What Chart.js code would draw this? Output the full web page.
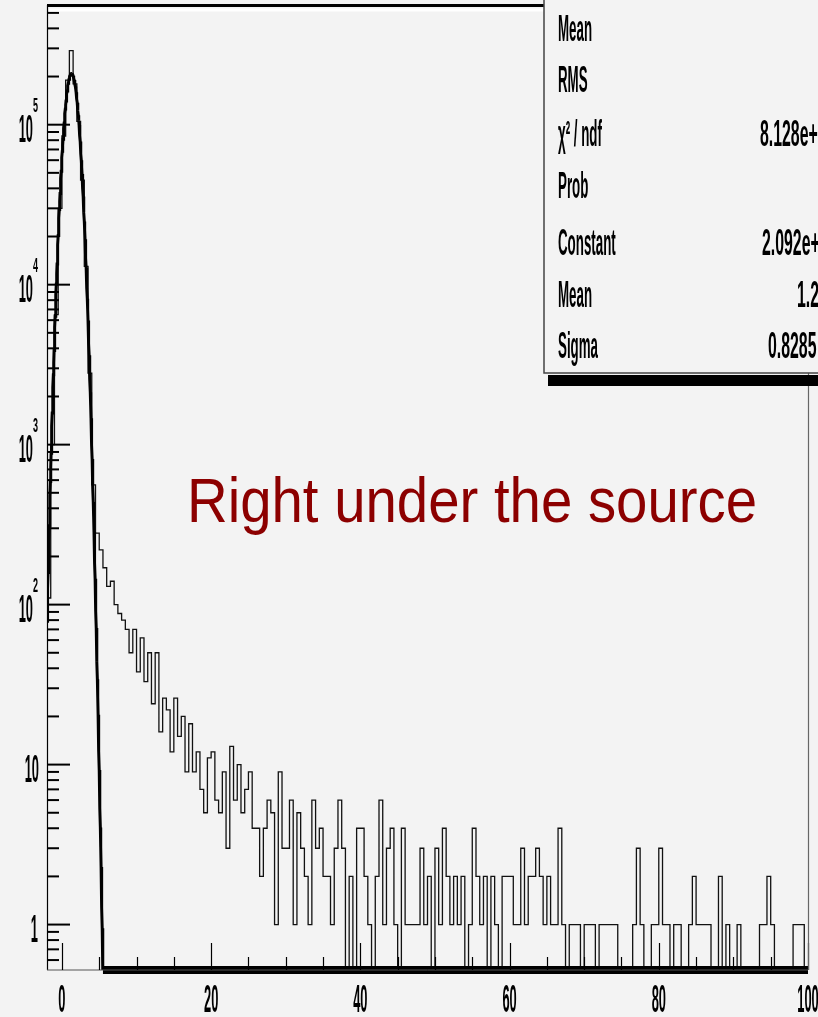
<!DOCTYPE html>
<html>
<head>
<meta charset="utf-8">
<title>Right under the source</title>
<script src="https://cdn.jsdelivr.net/npm/chart.js@4.4.1/dist/chart.umd.min.js"></script>
<style>
  html, body { margin: 0; padding: 0; background: #f3f3f3; overflow: hidden; }
  canvas { display: block; }
</style>
</head>
<body>
<canvas id="chart" width="818" height="1017"></canvas>
<script>
// Histogram binning: 0.5-wide bins starting at -2
const binLow = -2;
const binWidth = 0.5;

// Entries per bin (bin i covers [binLow + i*binWidth, binLow + (i+1)*binWidth))
const counts = [
  110, 1000, 6500, 30000, 85000, 190000, 290000, 180000, 105000, 45000,
  13000, 2800, 560, 280, 220, 170, 130, 140, 100, 88,
  80, 70, 50, 70, 38, 62, 33, 50, 24, 50,
  16, 26, 22, 12, 26, 15, 20, 9, 18, 9,
  12, 7, 5, 11, 12, 6, 5, 9, 3, 13,
  6, 10, 5, 7, 9, 4, 4, 2, 4, 6,
  5, 1, 9, 3, 3, 6, 1, 5, 3, 2,
  1, 6, 3, 4, 2, 2, 1, 3, 6, 3,
  0, 2, 0, 4, 4, 2, 1, 0, 2, 6,
  1, 3, 4, 1, 0, 4, 1, 1, 1, 1,
  3, 1, 2, 0, 3, 1, 4, 2, 1, 2,
  1, 2, 0, 1, 4, 2, 1, 2, 0, 2,
  1, 0, 2, 2, 2, 1, 1, 3, 1, 2,
  2, 3, 2, 1, 2, 1, 1, 4, 1, 0,
  1, 1, 1, 0, 1, 1, 1, 0, 1, 1,
  1, 1, 1, 0, 0, 0, 0, 1, 3, 1,
  0, 0, 1, 1, 3, 1, 1, 0, 1, 1,
  0, 0, 1, 2, 1, 1, 1, 1, 0, 0,
  2, 0, 1, 0, 0, 1, 0, 0, 0, 0,
  0, 1, 1, 2, 1, 0, 0, 0, 0, 0,
  1, 1, 1, 0
];

// Gaussian fit parameters
const fitConstant = 2.092e5;
const fitMean = 1.29;
const fitSigma = 0.8285;
const fitChi2 = 8.128e4;

// ROOT-style exponent formatting: 8.128e+04
function rootExp(v) {
  return v.toExponential(3).replace(/e([+-])(\d)$/, 'e$10$2');
}

// Statistics box rows
const statLabels = ['Mean', 'RMS', 'χ² / ndf', 'Prob', 'Constant', 'Mean', 'Sigma'];
const statValues = ['', '', rootExp(fitChi2), '', rootExp(fitConstant), fitMean.toFixed(2), fitSigma.toFixed(4)];

// Axes
const xRange = [-2, 100];
const yRange = [0.52, 5.6e5];
const xMajorTicks = [0, 20, 40, 60, 80, 100];
const xMinorTicks = [5, 10, 15, 25, 30, 35, 45, 50, 55, 65, 70, 75, 85, 90, 95];
const yDecades = [1, 10, 100, 1000, 10000, 100000];
const yMinorMultipliers = [2, 3, 4, 5, 6, 7, 8, 9];

const titleText = 'Right under the source';

// ---- datasets ----
const histPoints = counts.map((c, i) => ({ x: binLow + i * binWidth, y: Math.max(c, yRange[0]) }));
histPoints.push({ x: binLow + counts.length * binWidth, y: Math.max(counts[counts.length - 1], yRange[0]) });

function gauss(u) {
  const d = (u - fitMean) / fitSigma;
  return fitConstant * Math.exp(-0.5 * d * d);
}
const fitPoints = [];
for (let k = 0; k <= 2040; k++) {
  const u = xRange[0] + k * 0.05;
  fitPoints.push({ x: u, y: Math.max(gauss(u), yRange[0]) });
}

const FONT = "'Liberation Sans', Arial, sans-serif";

function narrowText(ctx, text, x, y, font, sx, align) {
  ctx.save();
  ctx.font = font;
  const w = ctx.measureText(text).width * sx;
  let left = x;
  if (align === 'right') left = x - w;
  else if (align === 'center') left = x - w / 2;
  ctx.translate(left, y);
  ctx.scale(sx, 1);
  ctx.textAlign = 'left';
  ctx.textBaseline = 'alphabetic';
  ctx.fillText(text, 0, 0);
  ctx.restore();
  return w;
}
function textWidth(ctx, text, font, sx) {
  ctx.save();
  ctx.font = font;
  const w = ctx.measureText(text).width * sx;
  ctx.restore();
  return w;
}

const backgroundPlugin = {
  id: 'background',
  beforeDraw(chart) {
    const ctx = chart.ctx;
    ctx.save();
    ctx.fillStyle = '#f3f3f3';
    ctx.fillRect(0, 0, chart.width, chart.height);
    ctx.restore();
  }
};

const framePlugin = {
  id: 'rootFrame',
  afterDatasetsDraw(chart) {
    const ctx = chart.ctx;
    const a = chart.chartArea;
    const xs = chart.scales.x, ys = chart.scales.y;
    ctx.save();

    // left axis line
    ctx.strokeStyle = '#000';
    ctx.lineWidth = 1.2;
    ctx.beginPath();
    ctx.moveTo(a.left + 0.5, a.top);
    ctx.lineTo(a.left + 0.5, a.bottom);
    ctx.stroke();

    // y ticks (drawn inward)
    ctx.lineWidth = 2;
    yDecades.forEach(d => {
      const y = ys.getPixelForValue(d);
      ctx.beginPath(); ctx.moveTo(a.left, y); ctx.lineTo(a.left + 23, y); ctx.stroke();
    });
    [0.1].concat(yDecades).forEach(d => {
      yMinorMultipliers.forEach(m => {
        const v = d * m;
        if (v < yRange[0] || v > yRange[1]) return;
        const y = ys.getPixelForValue(v);
        ctx.beginPath(); ctx.moveTo(a.left, y); ctx.lineTo(a.left + 12, y); ctx.stroke();
      });
    });

    // y labels
    ctx.fillStyle = '#000';
    const digitFont = 'bold 39px ' + FONT;
    const expFont = 'bold 21px ' + FONT;
    yDecades.forEach(d => {
      const e = Math.round(Math.log10(d));
      const y = ys.getPixelForValue(d);
      const right = 38;
      if (e === 0) {
        narrowText(ctx, '1', right, y + 17, digitFont, 0.33, 'right');
      } else if (e === 1) {
        narrowText(ctx, '10', right + 1, y + 17, digitFont, 0.33, 'right');
      } else {
        const we = textWidth(ctx, String(e), expFont, 0.43);
        narrowText(ctx, '10', right - we, y + 17, digitFont, 0.33, 'right');
        narrowText(ctx, String(e), right - we, y - 13, expFont, 0.43, 'left');
      }
    });

    // x axis line and ticks (drawn upward)
    ctx.strokeStyle = '#555';
    ctx.lineWidth = 1;
    ctx.beginPath(); ctx.moveTo(a.left, a.bottom); ctx.lineTo(a.right, a.bottom); ctx.stroke();
    ctx.strokeStyle = '#000';
    ctx.lineWidth = 1.2;
    xMajorTicks.forEach(v => {
      const x = Math.round(xs.getPixelForValue(v)) + 0.5;
      ctx.beginPath(); ctx.moveTo(x, a.bottom); ctx.lineTo(x, a.bottom - 27); ctx.stroke();
    });
    xMinorTicks.forEach(v => {
      const x = Math.round(xs.getPixelForValue(v)) + 0.5;
      ctx.beginPath(); ctx.moveTo(x, a.bottom); ctx.lineTo(x, a.bottom - 13); ctx.stroke();
    });
    xMajorTicks.forEach(v => {
      const x = xs.getPixelForValue(v);
      narrowText(ctx, String(v), x, 1012, digitFont, 0.33, 'center');
    });

    // top frame edge
    ctx.strokeStyle = '#000';
    ctx.lineWidth = 3;
    ctx.beginPath(); ctx.moveTo(a.left, a.top + 0.5); ctx.lineTo(a.right, a.top + 0.5); ctx.stroke();
    ctx.strokeStyle = '#ffffff';
    ctx.lineWidth = 3;
    ctx.beginPath(); ctx.moveTo(a.left + 2, a.top + 5); ctx.lineTo(a.right, a.top + 5); ctx.stroke();
    // right frame edge
    ctx.strokeStyle = '#666';
    ctx.lineWidth = 1.2;
    ctx.beginPath(); ctx.moveTo(a.right + 0.5, a.top); ctx.lineTo(a.right + 0.5, a.bottom); ctx.stroke();

    // statistics box with shadow
    const bx = 544, by = -4, bw = 300, bh = 377;
    ctx.fillStyle = '#000';
    ctx.fillRect(bx + 4, by + bh + 2, bw, 11);
    ctx.fillStyle = '#f3f3f3';
    ctx.fillRect(bx, by, bw, bh);
    ctx.strokeStyle = '#444';
    ctx.lineWidth = 1.5;
    ctx.strokeRect(bx, by, bw, bh);

    const statFont = 'bold 36px ' + FONT;
    const baselines = [41, 92, 146, 198, 255, 307, 358];
    const valueX = [0, 0, 760, 0, 762, 797, 768];
    ctx.fillStyle = '#000';
    statLabels.forEach((t, i) => {
      narrowText(ctx, t, 558, baselines[i], statFont, 0.37, 'left');
      if (statValues[i]) narrowText(ctx, statValues[i], valueX[i], baselines[i], statFont, 0.44, 'left');
    });

    // title
    ctx.fillStyle = '#8c0000';
    const tFont = '63px ' + FONT;
    const tw = textWidth(ctx, titleText, tFont, 1);
    narrowText(ctx, titleText, 187, 522, tFont, 570 / tw, 'left');

    ctx.restore();
  }
};

new Chart(document.getElementById('chart'), {
  type: 'line',
  data: {
    datasets: [
      {
        label: 'gaus fit',
        data: fitPoints,
        borderColor: '#000',
        borderWidth: 3,
        pointRadius: 0,
        tension: 0,
        clip: { left: 0, top: 0, right: 0, bottom: 5 },
        segment: {
          borderWidth: c => (fitPoints[c.p0DataIndex].y <= yRange[0] && fitPoints[c.p1DataIndex].y <= yRange[0]) ? 8 : 3
        }
      },
      {
        label: 'counts',
        data: histPoints,
        borderColor: '#111',
        borderWidth: 1.3,
        pointRadius: 0,
        stepped: 'before'
      }
    ]
  },
  options: {
    responsive: false,
    animation: false,
    devicePixelRatio: 1,
    layout: { padding: { left: 47, right: 10, top: 5, bottom: 47 } },
    scales: {
      x: { type: 'linear', min: xRange[0], max: xRange[1], display: false },
      y: { type: 'logarithmic', min: yRange[0], max: yRange[1], display: false }
    },
    plugins: { legend: { display: false }, tooltip: { enabled: false } }
  },
  plugins: [backgroundPlugin, framePlugin]
});
</script>
</body>
</html>
